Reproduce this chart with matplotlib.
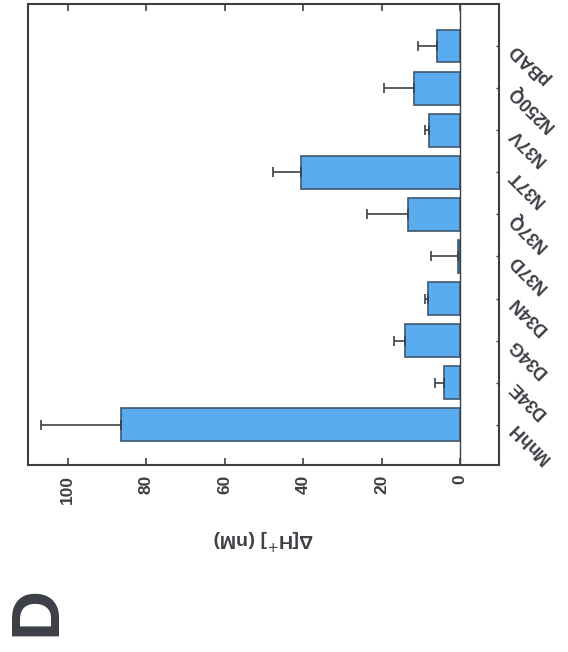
import matplotlib
matplotlib.use('Agg')
import matplotlib.pyplot as plt

# categories from bottom (MnhH) to top (pBAD)
strains = ["MnhH", "D34E", "D34G", "D34N", "N37D", "N37Q", "N37T", "N37V", "N250Q", "pBAD"]
delta_h = [86.3, 4.0, 14.0, 8.2, 0.6, 13.3, 40.6, 7.9, 11.7, 5.9]
delta_h_err = [20.5, 2.3, 2.9, 0.8, 6.9, 10.5, 7.0, 1.0, 7.6, 4.8]
value_ticks = [0, 20, 40, 60, 80, 100]

GREY = "#3c3f45"
plt.rcParams['font.family'] = ['Liberation Sans', 'DejaVu Sans']

fig = plt.figure(figsize=(5.68, 6.52), dpi=100)
ax = fig.add_axes([0.050, 0.287, 0.829, 0.707])

pos = list(range(len(strains)))
ax.barh(pos, delta_h, height=0.78, color="#5aacee", edgecolor="#3f5870", linewidth=1.2,
        xerr=[[0] * len(strains), delta_h_err], error_kw=dict(ecolor=GREY, elinewidth=1.2,
        capsize=3.5, capthick=1.2), zorder=2)
ax.axvline(0, color=GREY, linewidth=1.0, zorder=3)

ax.set_xlim(110, -10)
ax.set_ylim(-0.95, 10.0)

ax.set_xticks(value_ticks)
ax.set_xticklabels([str(v) for v in value_ticks], rotation=90, fontsize=12.5, fontweight='bold', color=GREY)
ax.tick_params(axis='x', direction='in', length=5, width=1.2, colors=GREY, top=True, pad=7)

ax.yaxis.tick_right()
ax.set_yticks(pos)
ax.set_yticklabels(strains, fontsize=13, fontweight='bold', color=GREY)
plt.setp(ax.get_yticklabels(), rotation=135, ha='right', va='center', rotation_mode='anchor')
ax.tick_params(axis='y', direction='in', length=2, width=1.0, colors=GREY, pad=9)

for s in ax.spines.values():
    s.set_color(GREY)
    s.set_linewidth(1.5)

ax.set_xlabel("Δ[H$^{+}$] (nM)", rotation=180, fontsize=14, fontweight='bold', color=GREY, labelpad=16)

fig.text(0.009, 0.025, "D", rotation=90, fontsize=50, fontweight='bold', color=GREY, ha='left', va='bottom')

fig.savefig("out.png", dpi=100)
